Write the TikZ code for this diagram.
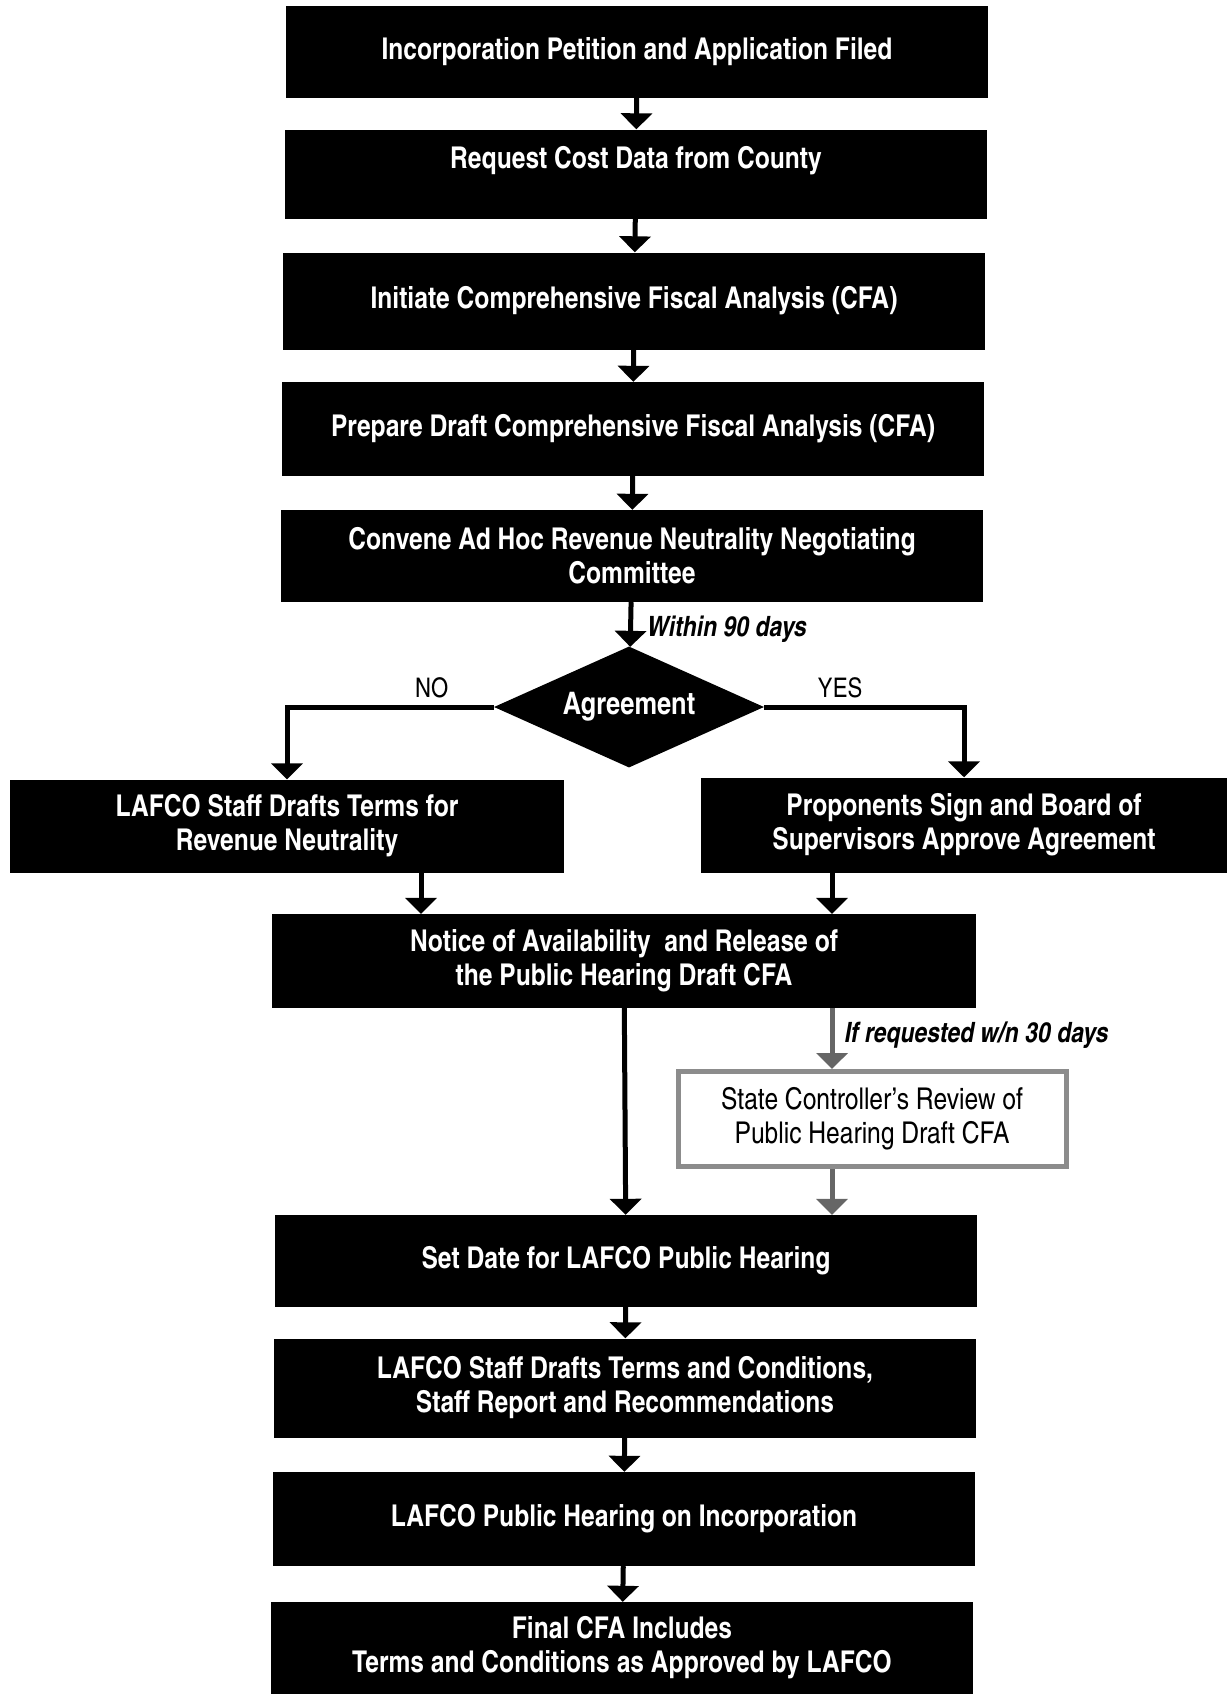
\documentclass[tikz,border=0pt]{standalone}
\usepackage{fontspec}
\setmainfont{texgyreheroscn}[Extension=.otf, UprightFont=*-regular, BoldFont=*-bold, ItalicFont=*-italic, BoldItalicFont=*-bolditalic]
\usetikzlibrary{shapes.geometric,arrows.meta}

\begin{document}
\begin{tikzpicture}[x=1pt,y=-1pt,
box/.style={fill=black, text=white, font=\bfseries\fontsize{30}{34}\selectfont, align=center, inner sep=0pt, minimum width=702pt, minimum height=92pt},
ctrlbox/.style={fill=white, draw=black!45, line width=5pt, font=\fontsize{30}{34}\selectfont, align=center, inner sep=0pt, minimum width=388pt, minimum height=95pt},
arr/.style={line width=5pt, -{Triangle[width=31pt,length=16pt]}},
grayarr/.style={arr, draw=black!60},
note/.style={font=\bfseries\itshape\fontsize{28}{30}\selectfont, inner sep=2pt},
yesno/.style={font=\fontsize{27}{30}\selectfont, inner sep=2pt}]
\useasboundingbox (0,0) rectangle (1227,1694);

\node[box] (b1) at (637,52) {Incorporation Petition and Application Filed};
\node[box, minimum height=89pt] (b2) at (636,174) {Request Cost Data from County\\\mbox{}};
\node[box, minimum height=97pt] (b3) at (634,301) {Initiate Comprehensive Fiscal Analysis (CFA)};
\node[box, minimum height=94pt] (b4) at (633,429) {Prepare Draft Comprehensive Fiscal Analysis (CFA)};
\node[box] (b5) at (632,556) {Convene Ad Hoc Revenue Neutrality Negotiating\\Committee};
\node[diamond, fill=black, text=white, font=\bfseries\fontsize{31}{34}\selectfont, aspect=2.2, inner sep=0pt, minimum width=270pt, minimum height=121pt] (dia) at (629,707) {Agreement};
\node[box, minimum width=554pt, minimum height=93pt] (lbox) at (287,826) {LAFCO Staff Drafts Terms for\\Revenue Neutrality};
\node[box, minimum width=526pt, minimum height=95pt] (rbox) at (964,825) {Proponents Sign and Board of\\Supervisors Approve Agreement};
\node[box, minimum width=704pt, minimum height=94pt] (nbox) at (624,961) {Notice of Availability~ and Release of\\the Public Hearing Draft CFA};
\node[ctrlbox] (sc) at (872,1119) {State Controller’s Review of\\Public Hearing Draft CFA};
\node[box] (sbox) at (626,1261) {Set Date for LAFCO Public Hearing};
\node[box, minimum height=99pt] (tbox) at (625,1388) {LAFCO Staff Drafts Terms and Conditions,\\Staff Report and Recommendations};
\node[box, minimum height=94pt] (pbox) at (624,1519) {LAFCO Public Hearing on Incorporation};
\node[box] (fbox) at (622,1648) {Final CFA Includes\\Terms and Conditions as Approved by LAFCO};

\draw[arr] (b1) -- (b2);
\draw[arr] (b2) -- (b3);
\draw[arr] (b3) -- (b4);
\draw[arr] (b4) -- (b5);
\draw[arr] (b5) -- node[note, right, pos=0.6, xshift=12pt]{Within 90 days} (dia);
\draw[arr] (dia.west) -| node[yesno, above, pos=0.15, yshift=4pt]{NO} (lbox.north);
\draw[arr] (dia.east) -| node[yesno, above, pos=0.19, yshift=4pt]{YES} (rbox.north);
\draw[arr] ([xshift=134pt]lbox.south) -- ([xshift=134pt]lbox.south |- nbox.north);
\draw[arr] ([xshift=-132pt]rbox.south) -- ([xshift=-132pt]rbox.south |- nbox.north);
\draw[arr] (nbox) -- (sbox);
\draw[grayarr] ([xshift=-40pt]sc.north |- nbox.south) -- node[note, right, pos=0.45, xshift=8pt]{If requested w/n 30 days} ([xshift=-40pt]sc.north);
\draw[grayarr] ([xshift=-40pt]sc.south) -- ([xshift=-40pt]sc.south |- sbox.north);
\draw[arr] (sbox) -- (tbox);
\draw[arr] (tbox) -- (pbox);
\draw[arr] (pbox) -- (fbox);

\end{tikzpicture}
\end{document}
